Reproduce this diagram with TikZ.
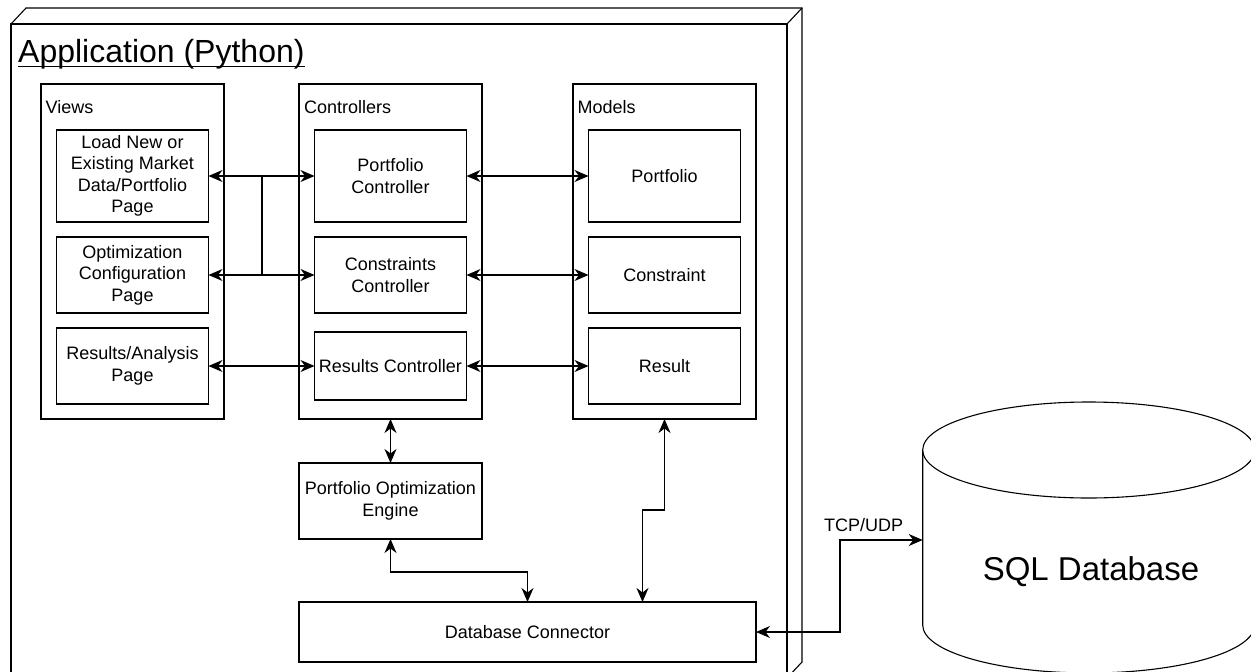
\documentclass[tikz,border=0pt]{standalone}
\usepackage{fontspec}
\setmainfont{Liberation Sans}
\usetikzlibrary{arrows.meta,calc}
\newcommand\bodyfont{\fontsize{18}{21.5}\selectfont}
\begin{document}
\begin{tikzpicture}[x=1pt,y=-1pt,
  line/.style={line width=1.1pt},
  box/.style={draw, line width=1.1pt, inner sep=0pt, outer sep=0pt, align=center, font=\bodyfont},
  lbl/.style={inner sep=0pt, anchor=west, font=\bodyfont},
  tip/.tip={Stealth[length=14pt,width=12pt,inset=4.5pt]},
  biarrow/.style={line width=1.1pt, tip-tip}]
\path[use as bounding box, fill=white] (0,0) rectangle (1251,672);
\clip (0,0) rectangle (1251,672);

% application 3D node
\node[box, minimum width=776pt, minimum height=654pt] (app) at (399,351) {};
\draw[line] (app.north west) -- ++(15,-16) -- (802,8) -- (802,662) -- (app.south east);
\draw[line] (app.north east) -- ++(15,-16);
\node[inner sep=0pt, anchor=base west, font=\fontsize{32}{38}\selectfont] (title) at (18,62) {Application (Python)};
\draw[line width=1.4pt] ([yshift=-4.5pt]title.base west) -- ([yshift=-4.5pt]title.base east);

% containers
\node[box, minimum width=183pt, minimum height=335pt] (views) at (132.5,251.5) {};
\node[box, minimum width=183pt, minimum height=335pt] (ctrls) at (390.5,251.5) {};
\node[box, minimum width=183pt, minimum height=335pt] (models) at (664.5,251.5) {};
\node[lbl] (viewsl) at (45.5,107) {Views};
\node[lbl] (ctrlsl) at (304,107) {Controllers};
\node[lbl] (modelsl) at (577.5,107) {Models};

% views
\node[box, minimum width=152pt, minimum height=92pt] (load) at (132.5,176) {Load New or\\Existing Market\\Data/Portfolio\\Page};
\node[box, minimum width=152pt, minimum height=76pt] (opt) at (132.5,275) {Optimization\\Configuration\\Page};
\node[box, minimum width=152pt, minimum height=76pt] (res) at (132.5,366) {Results/Analysis\\Page};

% controllers
\node[box, minimum width=152pt, minimum height=92pt] (pc) at (390.5,176) {Portfolio\\Controller};
\node[box, minimum width=152pt, minimum height=76pt] (cc) at (390.5,275) {Constraints\\Controller};
\node[box, minimum width=152pt, minimum height=68pt] (rc) at (390.5,366) {Results Controller};

% models
\node[box, minimum width=152pt, minimum height=92pt] (mp) at (664.5,176) {Portfolio};
\node[box, minimum width=152pt, minimum height=76pt] (mc) at (664.5,275) {Constraint};
\node[box, minimum width=152pt, minimum height=76pt] (mr) at (664.5,366) {Result};

% engine & connector
\node[box, minimum width=183pt, minimum height=76pt] (eng) at (390.5,501) {Portfolio Optimization\\Engine};
\node[box, minimum width=457pt, minimum height=60pt] (dbc) at (527.5,632) {Database Connector};

% SQL database cylinder
\draw[line, fill=white] (922.7,450) -- (922.7,625) arc[start angle=180, end angle=360, x radius=166pt, y radius=48pt] -- (1254.7,450);
\draw[line, fill=white] (1088.7,450) ellipse[x radius=166pt, y radius=48pt];
\node[inner sep=0pt, font=\fontsize{33}{40}\selectfont] (sql) at (1091,572) {SQL Database};
\coordinate (sqlin) at (922.7,540);

% connectors
\coordinate (j1) at (262,176);
\coordinate (j2) at (262,275);
\draw[biarrow] (load.east) -- (pc.west);
\draw[biarrow] (opt.east) -- (cc.west);
\draw[line] (j1) -- (j2);
\draw[biarrow] (res.east) -- (rc.west);
\draw[biarrow] (pc.east) -- (mp.west);
\draw[biarrow] (cc.east) -- (mc.west);
\draw[biarrow] (rc.east) -- (mr.west);
\draw[biarrow] (ctrls.south) -- (eng.north);
\draw[biarrow] (eng.south) -- ++(0,33) -| (dbc.north);
\coordinate (dbm) at (642.5,602);
\draw[biarrow] (models.south) |- ++(-22,91) -- (dbm);
\draw[biarrow] (dbc.east) -| ($(sqlin)+(-82.7,0)$) -- (sqlin);
\node[inner sep=0pt, anchor=base west, font=\bodyfont] (tcp) at (824,531.5) {TCP/UDP};
\end{tikzpicture}
\end{document}
